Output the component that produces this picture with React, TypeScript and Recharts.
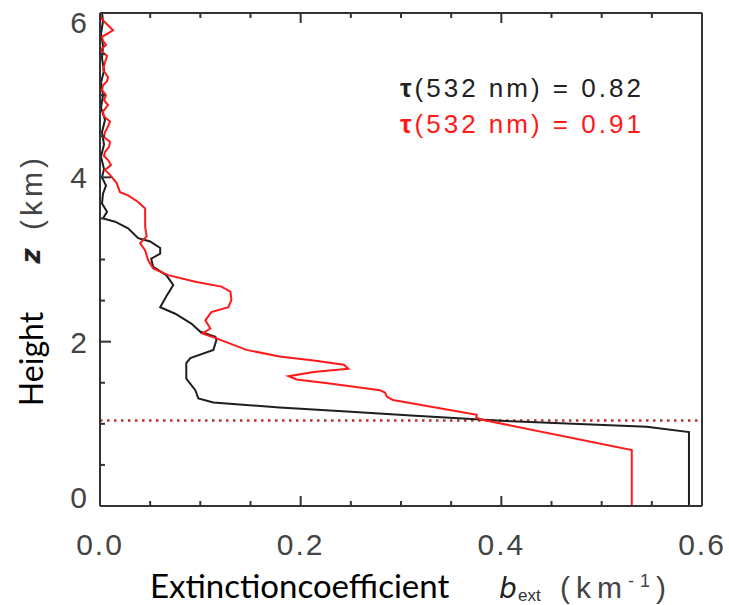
import { LineChart, Line, XAxis, YAxis, ReferenceLine } from "recharts";

// black profile (tau = 0.82): height in km, extinction in km^-1
const blackHeight = [
  0, 0.9, 0.965, 1.03, 1.1, 1.15, 1.2, 1.26, 1.31, 1.41, 1.55, 1.74, 1.8, 1.9, 2.02, 2.06,
  2.12, 2.22, 2.34, 2.42, 2.55, 2.69, 2.81, 2.91, 3.01, 3.07, 3.14, 3.22, 3.26, 3.38, 3.46,
  3.5, 3.58, 3.68, 3.8, 3.9, 4.0, 4.1, 4.25, 4.4, 4.55, 4.7, 4.85, 5.0, 5.15, 5.3, 5.45,
  5.6, 5.75, 5.9, 6.0,
];
const blackExt = [
  0.587, 0.587, 0.545, 0.41, 0.31, 0.246, 0.179, 0.113, 0.098, 0.095, 0.086, 0.086, 0.09,
  0.113, 0.116, 0.115, 0.1, 0.091, 0.075, 0.06, 0.066, 0.073, 0.066, 0.053, 0.051, 0.06,
  0.06, 0.05, 0.038, 0.028, 0.015, 0.003, 0.007, 0.002, 0.003, 0.006, 0.002, 0.004, 0.001,
  0.004, 0.002, 0.005, 0.001, 0.003, 0.001, 0.004, 0.002, 0.003, 0.001, 0.003, 0.002,
];

// red profile (tau = 0.91)
const redHeight = [
  0, 0.68, 1.055, 1.08, 1.11, 1.29, 1.33, 1.38, 1.41, 1.49, 1.54, 1.58, 1.63, 1.67, 1.72,
  1.77, 1.82, 1.9, 2.04, 2.1, 2.16, 2.2, 2.26, 2.36, 2.42, 2.51, 2.61, 2.67, 2.73, 2.81,
  2.89, 2.99, 3.11, 3.2, 3.28, 3.4, 3.62, 3.7, 3.78, 3.82, 3.93, 4.03, 4.09, 4.15, 4.21,
  4.26, 4.31, 4.37, 4.43, 4.49, 4.55, 4.62, 4.68, 4.74, 4.8, 4.88, 4.94, 5.0, 5.06, 5.12,
  5.17, 5.22, 5.31, 5.4, 5.48, 5.55, 5.61, 5.66, 5.71, 5.79, 5.85, 5.92, 6.0,
];
const redExt = [
  0.53, 0.53, 0.379, 0.375, 0.3755, 0.292, 0.286, 0.284, 0.279, 0.229, 0.196, 0.188, 0.213,
  0.2475, 0.243, 0.213, 0.179, 0.146, 0.116, 0.102, 0.11, 0.108, 0.105, 0.111, 0.128, 0.131,
  0.13, 0.121, 0.095, 0.068, 0.053, 0.048, 0.045, 0.04, 0.0465, 0.045, 0.045, 0.038, 0.028,
  0.02, 0.0166, 0.01, 0.005, 0.011, 0.008, 0.004, 0.005, 0.009, 0.01, 0.004, 0.005, 0.008,
  0.01, 0.004, 0.003, 0.008, 0.004, 0.006, 0.002, 0.003, 0.007, 0.008, 0.003, 0.005, 0.007,
  0, 0.006, 0.003, 0.002, 0.013, 0.008, 0.002, 0,
];

const boundaryLayerTop = 1.04;

const xMajor = [0, 0.2, 0.4, 0.6];
const xTicks = [0, 0.05, 0.1, 0.15, 0.2, 0.25, 0.3, 0.35, 0.4, 0.45, 0.5, 0.55, 0.6];
const yMajor = [0, 2, 4, 6];
const yTicks = [0, 0.5, 1, 1.5, 2, 2.5, 3, 3.5, 4, 4.5, 5, 5.5, 6];

const blackData = blackHeight.map((h, i) => ({ h, ext: blackExt[i] }));
const redData = redHeight.map((h, i) => ({ h, ext: redExt[i] }));

const AXIS = "#333";
const tickFont = "'Liberation Sans', Arial, sans-serif";

const isMajor = (list: number[], v: number) => list.some((m) => Math.abs(m - v) < 1e-6);

const bottomTick = (p: any) => {
  const { x, y, payload } = p;
  const major = isMajor(xMajor, payload.value);
  return (
    <g key={`b-${payload.value}`}>
      <path d={`M${x},${y}V${y - (major ? 10 : 5)}`} style={{ stroke: AXIS, strokeWidth: 2 }} />
      {major && (
        <text x={x} y={y + 49} textAnchor="middle" fontFamily={tickFont} fontSize={30}
          letterSpacing={2} fill="#444">
          {payload.value.toFixed(1)}
        </text>
      )}
    </g>
  );
};

const topTick = (p: any) => {
  const { x, y, payload } = p;
  const major = isMajor(xMajor, payload.value);
  return (
    <path key={`t-${payload.value}`} d={`M${x},${y}V${y + (major ? 10 : 5)}`}
      style={{ stroke: AXIS, strokeWidth: 2 }} />
  );
};

const leftTick = (p: any) => {
  const { x, y, payload } = p;
  const major = isMajor(yMajor, payload.value);
  const shift = payload.value === 0 ? -9 : payload.value === 6 ? 9 : 0;
  return (
    <g key={`l-${payload.value}`}>
      <path d={`M${x},${y}H${x + (major ? 11 : 5)}`} style={{ stroke: AXIS, strokeWidth: 2 }} />
      {major && (
        <text x={x - 13} y={y + shift + 11} textAnchor="end" fontFamily={tickFont} fontSize={30}
          fill="#444">
          {payload.value}
        </text>
      )}
    </g>
  );
};

const rightTick = (p: any) => {
  const { x, y, payload } = p;
  const major = isMajor(yMajor, payload.value);
  return (
    <path key={`r-${payload.value}`} d={`M${x},${y}H${x - (major ? 11 : 5)}`}
      style={{ stroke: AXIS, strokeWidth: 2 }} />
  );
};

export default function App() {
  return (
    <div style={{ position: "absolute", left: 0, top: 0, width: 729, height: 605, background: "#fff" }}>
      <LineChart
        width={729}
        height={605}
        layout="vertical"
        margin={{ top: 12, right: 26, bottom: 59, left: 40 }}
      >
        <XAxis
          type="number"
          dataKey="ext"
          domain={[0, 0.6]}
          ticks={xTicks}
          interval={0}
          allowDataOverflow
          height={40}
          tickSize={0}
          tickMargin={0}
          tickLine={false}
          axisLine={{ stroke: AXIS, strokeWidth: 2 }}
          tick={bottomTick}
        />
        <XAxis
          xAxisId="top"
          orientation="top"
          type="number"
          domain={[0, 0.6]}
          ticks={xTicks}
          interval={0}
          allowDataOverflow
          height={1}
          tickSize={0}
          tickMargin={0}
          tickLine={false}
          axisLine={{ stroke: AXIS, strokeWidth: 2 }}
          tick={topTick}
        />
        <YAxis
          type="number"
          dataKey="h"
          domain={[0, 6]}
          reversed
          ticks={yTicks}
          interval={0}
          allowDataOverflow
          width={60}
          tickSize={0}
          tickMargin={0}
          tickLine={false}
          axisLine={{ stroke: AXIS, strokeWidth: 2 }}
          tick={leftTick}
        />
        <YAxis
          yAxisId="right"
          orientation="right"
          type="number"
          domain={[0, 6]}
          reversed
          ticks={yTicks}
          interval={0}
          allowDataOverflow
          width={1}
          tickSize={0}
          tickMargin={0}
          tickLine={false}
          axisLine={{ stroke: AXIS, strokeWidth: 2 }}
          tick={rightTick}
        />
        <ReferenceLine
          y={boundaryLayerTop}
          stroke="#b83030"
          strokeWidth={2.5}
          strokeDasharray="2.5 4.5"
        />
        <Line
          data={blackData}
          dataKey="ext"
          type="linear"
          stroke="#1e1e1e"
          strokeWidth={2}
          dot={false}
          isAnimationActive={false}
        />
        <Line
          data={redData}
          dataKey="ext"
          type="linear"
          stroke="#ff1a1a"
          strokeWidth={2}
          dot={false}
          isAnimationActive={false}
        />
      </LineChart>
      <svg
        width={729}
        height={605}
        style={{ position: "absolute", left: 0, top: 0, pointerEvents: "none" }}
      >
        <g fontFamily={tickFont} fontSize={26} letterSpacing={3}>
          <text x={400} y={97} fill="#222">
            <tspan fontWeight="bold">τ</tspan>(532 nm) = 0.82
          </text>
          <text x={400} y={133} fill="#ff1a1a">
            <tspan fontWeight="bold">τ</tspan>(532 nm) = 0.91
          </text>
        </g>
        <text x={150} y={598} fontFamily="Lato, sans-serif" fontSize={33} fill="#000">
          Extinctioncoefficient
        </text>
        <text x={499} y={598} fontFamily="'DejaVu Sans', sans-serif" fontStyle="italic" fontSize={28} fill="#222">
          b
        </text>
        <text x={518} y={601} fontFamily={tickFont} fontSize={17} fill="#333">
          ext
        </text>
        <text x={560} y={598} fontFamily={tickFont} fontSize={30} letterSpacing={6} fill="#444">
          (km
          <tspan dy={-11} fontSize={18}>-1</tspan>
          <tspan dy={11}>)</tspan>
        </text>
        <text
          transform="translate(43,359) rotate(-90)"
          textAnchor="middle"
          fontFamily="Lato, sans-serif"
          fontSize={32}
          fill="#000"
        >
          Height
        </text>
        <text
          transform="translate(40,256) rotate(-90)"
          textAnchor="middle"
          fontFamily="'DejaVu Sans', sans-serif"
          fontStyle="italic"
          fontWeight="bold"
          fontSize={26}
          fill="#222"
        >
          z
        </text>
        <text
          transform="translate(42,192) rotate(-90)"
          textAnchor="middle"
          fontFamily={tickFont}
          fontSize={30}
          letterSpacing={4}
          fill="#444"
        >
          (km)
        </text>
      </svg>
    </div>
  );
}
